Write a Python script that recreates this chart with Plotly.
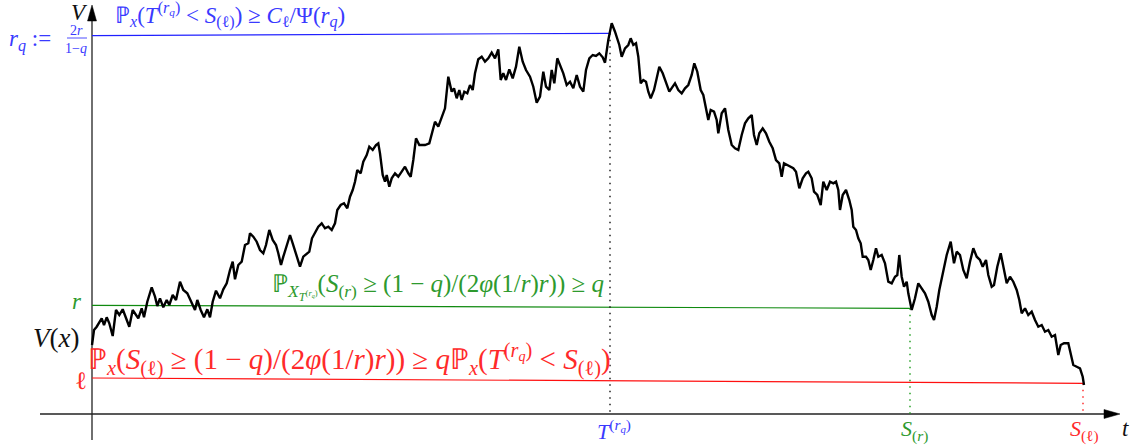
import plotly.graph_objects as go

# ---- path of the process V(X_t) (t, V) ----
t_path = [0, 1, 2, 4.7, 7.3, 9.7, 12, 14.7, 17.3, 20.7, 24, 27.3, 30.7, 34, 37.3, 40.7, 44, 46.3, 49.7, 52,
          55.3, 59.7, 63, 65.3, 68, 71.3, 74.7, 77.3, 80.7, 84, 88, 91.3, 95.3, 99.7, 103, 105.3, 108.7, 112,
          115.3, 118, 120.7, 124, 128, 131.3, 134.7, 138, 140.7, 143, 146.3, 149.7, 153, 156.3,
          158, 161.3, 164.7, 168, 171.3, 174, 177.3, 180.7, 184, 186.3, 189, 191.3, 194.7, 198, 200.7, 204,
          208, 211.3, 214.7, 217.3, 220, 223, 226.3, 229.7, 233, 236.3, 239.7, 243, 245.3, 248.7, 252, 255.3,
          258, 260.7, 263, 265.3, 268.7, 271.3, 274.7, 277.3, 280.7, 284, 286.3, 288, 290.7, 293, 294.7,
          297.3, 299.7, 303, 306.3, 309.7, 313, 316.3, 318.7, 321.3, 324, 327.3,
          333, 337.3, 340.7, 343, 346.3, 349.7, 353, 356.3, 359.7, 362, 364.7, 367.3, 369.7, 372.3, 375.3,
          378, 380.7, 383, 386.3, 389.7, 393, 396.3, 399.7, 403, 406.3, 408.7, 411.3, 414, 417.3, 420.7, 424,
          427.3, 430.7, 434, 438, 441.3, 444.7, 448, 451.3, 454, 457.3, 459.7, 462.3, 465.3, 468, 471.3,
          474.7, 478, 481.3, 484.7, 488, 491.3, 494, 497.3, 500.7, 504, 507.3, 510.7, 513, 516.3, 519.7, 523,
          527.3,
          529.7, 533, 536.3, 538.7, 541.3, 544, 546.3, 548.7, 551.3, 554, 556.3, 558.7, 562, 564.7, 567.3,
          570.7, 574, 577.3, 580.7, 583, 586.3, 589.7, 593, 596.3, 599.7, 602.3, 605.3, 608.7, 611.3, 614,
          616.3, 618.7, 622, 624.7, 626.3, 629.7, 633, 636.3, 639.7, 643, 646.3, 649.7, 653, 656.3, 659.7,
          662, 664.7, 667.3, 670.7, 674, 677.3, 680.7, 684, 687.3, 689.7, 692, 695.3, 698.7,
          701.3, 704, 707.3, 710.7, 714, 716.3, 719.7, 722, 725.3, 728.7, 731.3, 734.7, 738, 741.3, 744,
          746.3, 748, 750.7, 754, 757.3, 759.7, 761.3, 764, 766.3, 768.7, 770.7, 774, 776.3, 778.7, 781.3,
          784, 786.3, 789.7, 793, 796.3, 799.7, 803, 805.3, 807.3, 809.7, 812, 814.7, 816.3, 819.7, 823,
          826.3, 829.7, 833, 836.3, 839.7, 842, 844.7, 847.3, 850.7,
          854.7, 858.7, 862, 864.7, 868, 871.3, 874.7, 878, 881.3, 884.7, 888, 890.7, 894, 896.3, 899.7,
          902, 905.3, 908.7, 912, 914.7, 918, 921.3, 924.7, 927.3, 929.7, 933, 936.3, 939.7, 943, 946.3,
          949.7, 953, 956.3, 959.7, 963, 966.3, 968.7, 972, 976.3, 978.7, 981.3, 984.7, 988, 990.7, 992]
v_path = [69, 77, 84, 87.3, 92.3, 95.7, 89, 96.7, 90.7, 78, 104, 99, 104.7, 96.7, 87.3, 104, 99, 95.7, 105.7,
          96.7, 112.3, 126.7, 117.3, 108, 115.7, 106.7, 114, 109, 119, 114, 132.3, 124, 120.7, 110.7, 104,
          114, 104, 96.7, 104.7, 96.7, 112.3, 123.3, 115.7, 124.7, 130.7, 144, 152.3, 134.7, 149, 152.3, 169,
          170.7,
          180.7, 177.3, 172.3, 164, 160.7, 169, 184, 174, 169, 160.7, 149, 157.3, 167.3, 179, 170.7, 160.7,
          147.3, 157.3, 160.7, 162.3, 175.7, 180.7, 187.3, 190.7, 185.7, 187.3, 184, 190.7, 204, 209, 210.7,
          205.7, 217.3, 224, 232.3, 244, 240.7, 252.3, 259, 267.3, 264, 269, 270.7, 260.7, 239, 232.3, 239,
          227.3, 235.7, 240.7, 237.3, 242.3, 247.3, 240.7, 237.3, 254, 275.7, 269,
          269, 270.7, 284, 292.3, 287.3, 295.7, 305.7, 337.3, 322.3, 325.7, 315.7, 324, 314, 322.3, 320.7,
          329, 324, 340.7, 354.7, 357.3, 352.3, 355.7, 361.3, 355.7, 364.7, 334, 340.7, 334, 344.7, 335.7,
          347.3, 367.3, 352.3, 344, 337.3, 327.3, 311.3, 317.3, 342.3, 327.3, 324, 344, 330.7, 355.7, 349,
          340.7, 329, 332.3, 325.7, 339, 327.3, 322.3, 344, 355.7, 359, 358, 360.7, 356.7, 351.3, 374, 390.7,
          382.3, 369,
          357.3, 365.7, 369, 375.7, 369, 370.7, 357.3, 330.7, 334, 332.3, 322.3, 315.7, 324, 335.7, 347.3,
          340.7, 332.3, 322.3, 327.3, 330.7, 324, 320.7, 325.7, 329, 339, 350.7, 342.3, 324, 319, 305.7,
          294, 304, 302.3, 294, 280.7, 300.7, 305.7, 284, 269, 265.7, 264, 279, 290.7, 295.7, 299,
          279, 269, 280.7, 285.7, 280.7, 272.3, 265.7, 254, 250.7, 237.3, 250.7, 249, 247.3,
          245.7, 242.3, 225.7, 235.7, 240.7, 242.3, 235.7, 222.3, 219, 209, 232.3, 224, 232.3, 230.7, 232.3,
          224, 204, 219, 224, 214, 204, 187.3, 184, 175.7, 170.7, 157.3, 157.3, 154, 144, 154,
          165.7, 157.3, 159, 150.7, 132.3, 130.7, 137.3, 139, 159, 137.3, 127.3, 132.3, 120.7, 104, 115.7,
          130.7, 125.7, 120.7, 112.3, 99, 94, 107.3, 124, 140.7,
          159, 172.3, 150.7, 162.3, 159, 144, 135.7, 152.3, 165.7, 157.3, 154, 147.3, 154, 139, 127.3,
          129, 147.3, 160.7, 144, 130.7, 137.3, 132.3, 124, 114, 100.7, 105.7, 99, 102.3, 94, 87.3,
          89, 82.3, 84, 77.3, 79, 59, 69, 70.7, 70.7, 59, 49, 47.3, 45.7, 37.3, 29]

# ---- levels and hitting times ----
level_names = ["r_q", "r", "ell"]
level_start = [378.3, 108.7, 36.0]      # V at t = 0
level_end = [380.7, 105.7, 30.7]        # V where the line meets the path
level_time = [518, 818, 991]            # T^(r_q), S_(r), S_(ell)
level_colors = ["#2020ff", "#108a10", "#ff1010"]

BLUE_TXT = "#3a3aff"
GREEN_TXT = "#2e9a2e"
RED_TXT = "#ff2a2a"
FONT = "Liberation Serif"

fig = go.Figure()

# axes (drawn as lines)
fig.add_trace(go.Scatter(x=[-52, 1014], y=[0, 0], mode="lines",
                         line=dict(color="#222222", width=1.3), hoverinfo="skip", showlegend=False))
fig.add_trace(go.Scatter(x=[0, 0], y=[-26, 396], mode="lines",
                         line=dict(color="#222222", width=1.3), hoverinfo="skip", showlegend=False))

# levels
for s, e, tt, c in zip(level_start, level_end, level_time, level_colors):
    fig.add_trace(go.Scatter(x=[0, tt], y=[s, e], mode="lines", line=dict(color=c, width=1.2),
                             hoverinfo="skip", showlegend=False))
dot_colors = ["#111111", "#1a9a1a", "#ff2020"]
for e, tt, c in zip(level_end, level_time, dot_colors):
    fig.add_trace(go.Scatter(x=[tt, tt], y=[e, 0], mode="lines",
                             line=dict(color=c, width=1.4, dash="1.5px,5px"),
                             hoverinfo="skip", showlegend=False))

# path
fig.add_trace(go.Scatter(x=t_path, y=v_path, mode="lines",
                         line=dict(color="black", width=2.4), hoverinfo="skip", showlegend=False))

# arrow heads
shapes = [
    dict(type="path", path="M 1012 -4.5 L 1028 0 L 1012 4.5 Z", fillcolor="black",
         line=dict(color="black", width=0.5), xref="x", yref="y"),
    dict(type="path", path="M -4.5 393 L 0 409 L 4.5 393 Z", fillcolor="black",
         line=dict(color="black", width=0.5), xref="x", yref="y"),
    # fraction bar of 2r/(1-q)
    dict(type="line", x0=-25, x1=-5, y0=376, y1=376, line=dict(color=BLUE_TXT, width=0.9),
         xref="x", yref="y"),
]


def px(x):
    return x - 92


def py(y):
    return 414 - y


ann = []


def label(text, x, y, color, size, xanchor="center", yanchor="middle"):
    ann.append(dict(text=text, x=px(x), y=py(y), xref="x", yref="y", showarrow=False,
                    xanchor=xanchor, yanchor=yanchor,
                    font=dict(family=FONT, size=size, color=color)))


label("<i>V</i>", 79, 12, "#111111", 23)
label("<i>r</i><sub><i>q</i></sub> :=", 7, 40, BLUE_TXT, 23, xanchor="left")
label("2<i>r</i>", 76, 30, BLUE_TXT, 14)
label("1−<i>q</i>", 76, 48, BLUE_TXT, 14)
label("ℙ<sub><i>x</i></sub>(<i>T</i><sup>(<i>r</i><sub><i>q</i></sub>)</sup> &lt; <i>S</i><sub>(ℓ)</sub>) ≥ "
      "<i>C</i><sub>ℓ</sub>/Ψ(<i>r</i><sub><i>q</i></sub>)", 113, 15, BLUE_TXT, 23, xanchor="left")
label("<i>r</i>", 77, 301, GREEN_TXT, 23)
label("<i>V</i>(<i>x</i>)", 56, 338, "#111111", 27)
label("ℓ", 81, 380, RED_TXT, 25)
label("ℙ<sub><i>X</i><sub><i>T</i><sup>(<i>r</i><sub><i>q</i></sub>)</sup></sub></sub>(<i>S</i><sub>(<i>r</i>)</sub>"
      " ≥ (1 − <i>q</i>)/(2<i>φ</i>(1/<i>r</i>)<i>r</i>)) ≥ <i>q</i>", 270, 287, GREEN_TXT, 25, xanchor="left")
label("ℙ<sub><i>x</i></sub>(<i>S</i><sub>(ℓ)</sub> ≥ (1 − <i>q</i>)/(2<i>φ</i>(1/<i>r</i>)<i>r</i>)) ≥ "
      "<i>q</i>ℙ<sub><i>x</i></sub>(<i>T</i><sup>(<i>r</i><sub><i>q</i></sub>)</sup> &lt; <i>S</i><sub>(ℓ)</sub>)",
      86, 359, RED_TXT, 29, xanchor="left")
label("<i>T</i><sup>(<i>r</i><sub><i>q</i></sub>)</sup>", 614, 430, BLUE_TXT, 22)
label("<i>S</i><sub>(<i>r</i>)</sub>", 914, 430, GREEN_TXT, 22)
label("<i>S</i><sub>(ℓ)</sub>", 1084, 430, RED_TXT, 22)
label("<i>t</i>", 1125, 428, "#111111", 23)

fig.update_layout(
    width=1135, height=446, margin=dict(l=0, r=0, t=0, b=0),
    paper_bgcolor="white", plot_bgcolor="white",
    xaxis=dict(range=[-92, 1043], visible=False, fixedrange=True),
    yaxis=dict(range=[-32, 414], visible=False, fixedrange=True),
    shapes=shapes, annotations=ann, showlegend=False,
)
fig.write_html("out.html", config={"displayModeBar": False, "staticPlot": True},
               post_script="document.body.style.margin='0';document.body.style.overflow='hidden';")
